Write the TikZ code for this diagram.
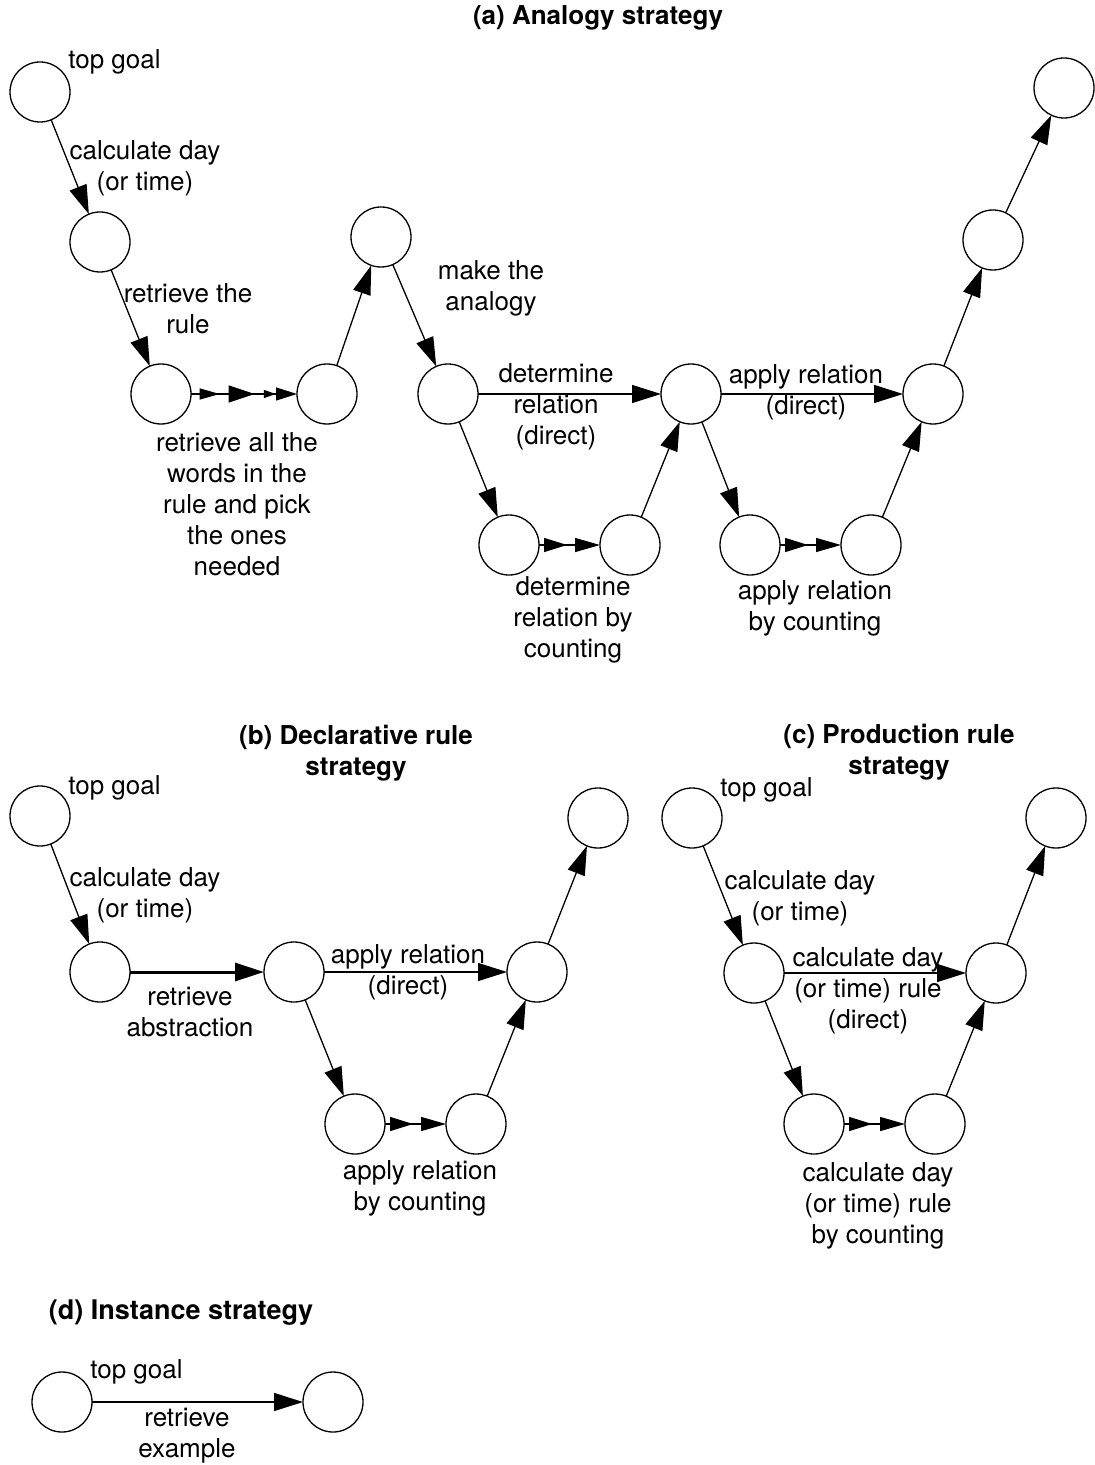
\documentclass[tikz,border=0pt]{standalone}
\usepackage{fontspec}
\setmainfont{TeX Gyre Heros}
\usetikzlibrary{arrows.meta,decorations.markings}

\begin{document}
\begin{tikzpicture}[x=0.5pt,y=-0.5pt,
		every node/.style={font=\fontsize{13}{15.5}\selectfont},
		goal/.style={draw,circle,line width=.65pt,minimum size=30pt,inner sep=0,outer sep=0},
		lbl/.style={align=center,inner sep=0},
		ttl/.style={lbl,font=\fontsize{13}{15.5}\selectfont\bfseries},
		link/.style={line width=.65pt,-{Triangle[length=14.5pt,width=9pt]}},
		tipstwo/.style={line width=.65pt,-{Triangle[length=12.5pt,width=7pt]},
			decoration={markings,mark=at position .46 with {\arrow{Triangle[length=11.5pt,width=7pt]}}},
			postaction=decorate},
		tipsfour/.style={line width=.65pt,-{Triangle[length=10.5pt,width=6.5pt]},
			decoration={markings,
				mark=at position .27 with {\arrow{Triangle[length=10pt,width=5.5pt]}},
				mark=at position .6 with {\arrow{Triangle[length=13pt,width=8.5pt]}},
				mark=at position .8 with {\arrow{Triangle[length=6pt,width=4pt]}}},
			postaction=decorate}]
		\useasboundingbox (0,0) rectangle (1094,1465);

		% (a)
		\node [ttl] (ta) at (598,18) {(a) Analogy strategy};
		\node [goal] (a1) at (40,92) {};
		\node [goal] (a2) at (100,242) {};
		\node [goal] (a3) at (161,394) {};
		\node [goal] (a4) at (327,394) {};
		\node [goal] (a5) at (381,237) {};
		\node [goal] (a6) at (448,394) {};
		\node [goal] (a7) at (691,394) {};
		\node [goal] (a8) at (933,394) {};
		\node [goal] (a9) at (993,240) {};
		\node [goal] (a10) at (1064,88) {};
		\node [goal] (a11) at (509,545) {};
		\node [goal] (a12) at (630,545) {};
		\node [goal] (a13) at (750,545) {};
		\node [goal] (a14) at (871,545) {};
		\node [lbl,anchor=west] (la1) at (68,62) {top goal};
		\node [lbl] (la2) at (145,168) {calculate day\\(or time)};
		\node [lbl] (la3) at (188,309) {retrieve the\\rule};
		\node [lbl] (la4) at (237,504) {retrieve all the\\words in the\\rule and pick\\the ones\\needed};
		\node [lbl] (la5) at (491,288) {make the\\analogy};
		\node [lbl] (la6) at (556,407) {determine\\relation\\(direct)};
		\node [lbl] (la7) at (806,392) {apply relation\\(direct)};
		\node [lbl] (la8) at (573,620) {determine\\relation by\\counting};
		\node [lbl] (la9) at (815,608) {apply relation\\by counting};
		\draw [link] (a1) -- (a2);
		\draw [link] (a2) -- (a3);
		\draw [tipsfour] (a3) -- (a4);
		\draw [link] (a4) -- (a5);
		\draw [link] (a5) -- (a6);
		\draw [link] (a6) -- (a7);
		\draw [link] (a6) -- (a11);
		\draw [tipstwo] (a11) -- (a12);
		\draw [link] (a12) -- (a7);
		\draw [link] (a7) -- (a8);
		\draw [link] (a7) -- (a13);
		\draw [tipstwo] (a13) -- (a14);
		\draw [link] (a14) -- (a8);
		\draw [link] (a8) -- (a9);
		\draw [link] (a9) -- (a10);

		% (b)
		\node [ttl] (tb) at (356,753) {(b) Declarative rule\\strategy};
		\node [goal] (b1) at (40,816) {};
		\node [goal] (b2) at (100,972) {};
		\node [goal] (b3) at (294,972) {};
		\node [goal] (b4) at (537,972) {};
		\node [goal] (b5) at (598,818) {};
		\node [goal] (b6) at (355,1124) {};
		\node [goal] (b7) at (476,1124) {};
		\node [lbl,anchor=west] (lb1) at (68,788) {top goal};
		\node [lbl] (lb2) at (145,895) {calculate day\\(or time)};
		\node [lbl] (lb3) at (190,1012) {retrieve\\abstraction};
		\node [lbl] (lb4) at (408,972) {apply relation\\(direct)};
		\node [lbl] (lb5) at (420,1188) {apply relation\\by counting};
		\draw [link] (b1) -- (b2);
		\draw [link,line width=1.5pt] (b2) -- (b3);
		\draw [link] (b3) -- (b4);
		\draw [link] (b3) -- (b6);
		\draw [tipstwo] (b6) -- (b7);
		\draw [link] (b7) -- (b4);
		\draw [link] (b4) -- (b5);

		% (c)
		\node [ttl] (tc) at (899,752) {(c) Production rule\\strategy};
		\node [goal] (c1) at (692,818) {};
		\node [goal] (c2) at (754,973) {};
		\node [goal] (c3) at (996,973) {};
		\node [goal] (c4) at (1056,818) {};
		\node [goal] (c5) at (814,1124) {};
		\node [goal] (c6) at (935,1124) {};
		\node [lbl,anchor=west] (lc1) at (720,790) {top goal};
		\node [lbl] (lc2) at (800,898) {calculate day\\(or time)};
		\node [lbl] (lc3) at (868,991) {calculate day\\(or time) rule\\(direct)};
		\node [lbl] (lc4) at (878,1206) {calculate day\\(or time) rule\\by counting};
		\draw [link] (c1) -- (c2);
		\draw [link] (c2) -- (c3);
		\draw [link] (c2) -- (c5);
		\draw [tipstwo] (c5) -- (c6);
		\draw [link] (c6) -- (c3);
		\draw [link] (c3) -- (c4);

		% (d)
		\node [ttl,font=\fontsize{13.5}{15.5}\selectfont\bfseries] (td) at (181,1313) {(d) Instance strategy};
		\node [goal] (d1) at (62,1402) {};
		\node [goal] (d2) at (333,1402) {};
		\node [lbl,anchor=west] (ld1) at (90,1372) {top goal};
		\node [lbl] (ld2) at (187,1436) {retrieve\\example};
		\draw [link] (d1) -- (d2);
\end{tikzpicture}
\end{document}
